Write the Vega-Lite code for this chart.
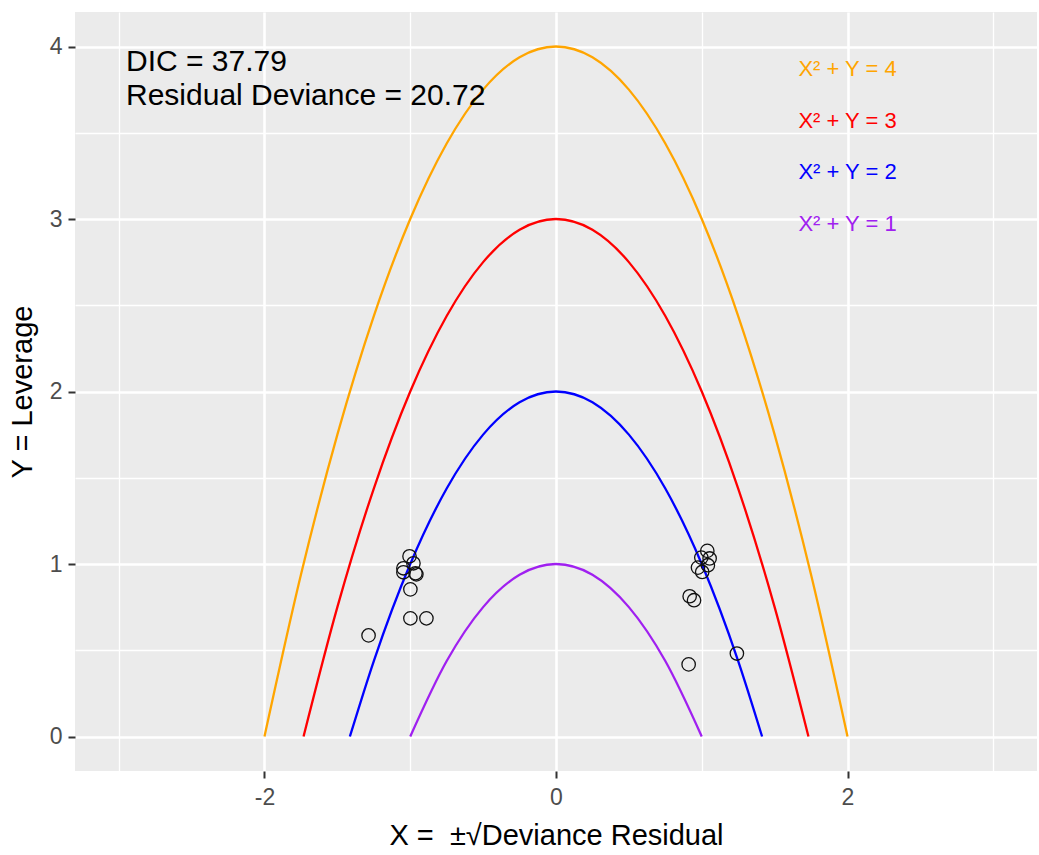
{
  "$schema": "https://vega.github.io/schema/vega-lite/v6.json",
  "width": 962,
  "height": 759,
  "autosize": {"type": "none"},
  "padding": {"left": 75, "top": 12, "right": 2, "bottom": 84},
  "background": "white",
  "config": {
    "font": "Liberation Sans",
    "view": {"fill": "#EBEBEB", "stroke": null},
    "axis": {
      "domain": false,
      "gridColor": "white",
      "tickColor": "#333333",
      "tickSize": 7,
      "tickWidth": 2,
      "labelColor": "#4D4D4D",
      "labelFontSize": 23,
      "labelFont": "Liberation Sans",
      "titleFont": "Liberation Sans",
      "titleFontSize": 29,
      "titleFontWeight": "normal",
      "titleColor": "black",
      "labelOverlap": false,
      "labelFlush": false,
      "labelBound": false
    }
  },
  "datasets": {
    "curves": [
      {"k": "4", "x": -2, "y": 0}, {"k": "4", "x": -1.75, "y": 0.9375}, {"k": "4", "x": -1.5, "y": 1.75}, {"k": "4", "x": -1.25, "y": 2.4375}, {"k": "4", "x": -1, "y": 3}, {"k": "4", "x": -0.75, "y": 3.4375}, {"k": "4", "x": -0.5, "y": 3.75}, {"k": "4", "x": -0.25, "y": 3.9375}, {"k": "4", "x": 0, "y": 4}, {"k": "4", "x": 0.25, "y": 3.9375}, {"k": "4", "x": 0.5, "y": 3.75}, {"k": "4", "x": 0.75, "y": 3.4375}, {"k": "4", "x": 1, "y": 3}, {"k": "4", "x": 1.25, "y": 2.4375}, {"k": "4", "x": 1.5, "y": 1.75}, {"k": "4", "x": 1.75, "y": 0.9375}, {"k": "4", "x": 2, "y": 0},
      {"k": "3", "x": -1.732, "y": 0}, {"k": "3", "x": -1.5, "y": 0.75}, {"k": "3", "x": -1.25, "y": 1.4375}, {"k": "3", "x": -1, "y": 2}, {"k": "3", "x": -0.75, "y": 2.4375}, {"k": "3", "x": -0.5, "y": 2.75}, {"k": "3", "x": -0.25, "y": 2.9375}, {"k": "3", "x": 0, "y": 3}, {"k": "3", "x": 0.25, "y": 2.9375}, {"k": "3", "x": 0.5, "y": 2.75}, {"k": "3", "x": 0.75, "y": 2.4375}, {"k": "3", "x": 1, "y": 2}, {"k": "3", "x": 1.25, "y": 1.4375}, {"k": "3", "x": 1.5, "y": 0.75}, {"k": "3", "x": 1.732, "y": 0},
      {"k": "2", "x": -1.414, "y": 0}, {"k": "2", "x": -1.25, "y": 0.4375}, {"k": "2", "x": -1, "y": 1}, {"k": "2", "x": -0.75, "y": 1.4375}, {"k": "2", "x": -0.5, "y": 1.75}, {"k": "2", "x": -0.25, "y": 1.9375}, {"k": "2", "x": 0, "y": 2}, {"k": "2", "x": 0.25, "y": 1.9375}, {"k": "2", "x": 0.5, "y": 1.75}, {"k": "2", "x": 0.75, "y": 1.4375}, {"k": "2", "x": 1, "y": 1}, {"k": "2", "x": 1.25, "y": 0.4375}, {"k": "2", "x": 1.414, "y": 0},
      {"k": "1", "x": -1, "y": 0}, {"k": "1", "x": -0.75, "y": 0.4375}, {"k": "1", "x": -0.5, "y": 0.75}, {"k": "1", "x": -0.25, "y": 0.9375}, {"k": "1", "x": 0, "y": 1}, {"k": "1", "x": 0.25, "y": 0.9375}, {"k": "1", "x": 0.5, "y": 0.75}, {"k": "1", "x": 0.75, "y": 0.4375}, {"k": "1", "x": 1, "y": 0}
    ],
    "points": [
      {"x": -1.005, "y": 1.045}, {"x": -0.978, "y": 1.004}, {"x": -1.047, "y": 0.975}, {"x": -1.047, "y": 0.952}, {"x": -0.964, "y": 0.946}, {"x": -0.958, "y": 0.94}, {"x": -0.999, "y": 0.853}, {"x": -0.999, "y": 0.685}, {"x": -0.889, "y": 0.685}, {"x": -1.286, "y": 0.586},
      {"x": 1.038, "y": 1.076}, {"x": 1.054, "y": 1.032}, {"x": 0.997, "y": 1.037}, {"x": 0.974, "y": 0.979}, {"x": 1.042, "y": 0.993}, {"x": 1.003, "y": 0.954}, {"x": 0.917, "y": 0.813}, {"x": 0.947, "y": 0.79}, {"x": 1.241, "y": 0.481}, {"x": 0.91, "y": 0.418}
    ],
    "labels": [
      {"k": "4", "label": "X² + Y = 4", "x": 2, "y": 3.9},
      {"k": "3", "label": "X² + Y = 3", "x": 2, "y": 3.6},
      {"k": "2", "label": "X² + Y = 2", "x": 2, "y": 3.3},
      {"k": "1", "label": "X² + Y = 1", "x": 2, "y": 3.0}
    ],
    "notes": [
      {"label": "DIC = 37.79\nResidual Deviance = 20.72", "x": -2.95, "y": 4.0}
    ]
  },
  "encoding": {
    "x": {
      "field": "x", "type": "quantitative",
      "scale": {"domain": [-3.3, 3.3], "nice": false, "zero": false},
      "axis": {
        "title": "X =\u00a0 ±√Deviance Residual",
        "values": [-3, -2, -1, 0, 1, 2, 3],
        "labelExpr": "datum.value % 2 === 0 ? '' + datum.value : ''",
        "gridWidth": {"condition": {"test": "datum.value % 2 === 0", "value": 2.6}, "value": 1.3},
        "tickOpacity": {"condition": {"test": "datum.value % 2 === 0", "value": 1}, "value": 0},
        "labelPadding": 8,
        "titlePadding": 12
      }
    },
    "y": {
      "field": "y", "type": "quantitative",
      "scale": {"domain": [-0.2, 4.2], "nice": false, "zero": false},
      "axis": {
        "title": "Y = Leverage",
        "values": [0, 0.5, 1, 1.5, 2, 2.5, 3, 3.5, 4],
        "labelExpr": "datum.value % 1 === 0 ? '' + datum.value : ''",
        "gridWidth": {"condition": {"test": "datum.value % 1 === 0", "value": 2.6}, "value": 1.3},
        "tickOpacity": {"condition": {"test": "datum.value % 1 === 0", "value": 1}, "value": 0},
        "labelPadding": 6,
        "titlePadding": 12
      }
    }
  },
  "layer": [
    {
      "data": {"name": "curves"},
      "mark": {"type": "line", "strokeWidth": 2.3, "interpolate": "monotone"},
      "encoding": {
        "color": {"field": "k", "type": "nominal", "legend": null,
          "scale": {"domain": ["1", "2", "3", "4"], "range": ["#A020F0", "#0000FF", "#FF0000", "#FFA500"]}},
        "detail": {"field": "k"}
      }
    },
    {
      "data": {"name": "points"},
      "mark": {"type": "point", "shape": "circle", "filled": false, "size": 180, "stroke": "#111111", "strokeWidth": 1.3, "opacity": 1}
    },
    {
      "data": {"name": "labels"},
      "mark": {"type": "text", "fontSize": 22, "align": "center", "baseline": "middle", "dy": 5},
      "encoding": {
        "text": {"field": "label"},
        "color": {"field": "k", "type": "nominal", "legend": null,
          "scale": {"domain": ["1", "2", "3", "4"], "range": ["#A020F0", "#0000FF", "#FF0000", "#FFA500"]}}
      }
    },
    {
      "data": {"name": "notes"},
      "mark": {"type": "text", "fontSize": 30, "align": "left", "baseline": "top", "lineBreak": "\n", "lineHeight": 34, "color": "black"},
      "encoding": {"text": {"field": "label"}}
    }
  ]
}
